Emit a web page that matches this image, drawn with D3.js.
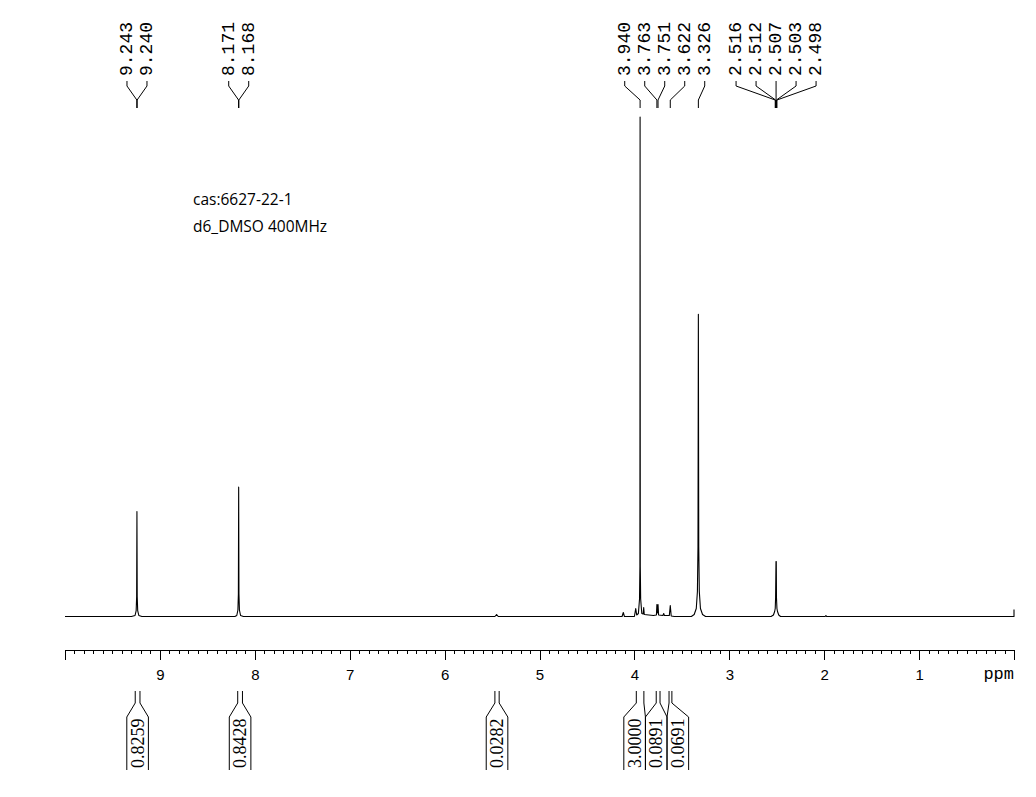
<!DOCTYPE html>
<html>
<head>
<meta charset="utf-8">
<script src="https://cdn.jsdelivr.net/npm/d3@7"></script>
<style>
  html, body { margin: 0; padding: 0; background: #fff; }
  svg { display: block; }
</style>
</head>
<body>
<svg id="chart" width="1036" height="797"></svg>
<script>
// ---------- data ----------
// spectrum trace: [ppm, relative intensity]
const spectrum = [
  [10.00, 0], [9.30, 0],
  [9.262, 0.2], [9.250, 1.2], [9.245, 4], [9.242, 21.0], [9.239, 4], [9.234, 1.2], [9.222, 0.2], [9.19, 0],
  [8.21, 0], [8.190, 0.2], [8.178, 1.3], [8.173, 4.5], [8.170, 25.9], [8.167, 4.5], [8.162, 1.3], [8.150, 0.2], [8.12, 0],
  [5.47, 0], [5.452, 0.4], [5.435, 0],
  [4.13, 0], [4.117, 0.8], [4.105, 0],
  [4.00, 0], [3.986, 1.6], [3.976, 0.3], [3.958, 0.6], [3.946, 3.5], [3.942, 10], [3.940, 100], [3.938, 10], [3.934, 3.5], [3.922, 0.6], [3.908, 0.5], [3.902, 1.8], [3.896, 0.4],
  [3.80, 0.2], [3.768, 0.3], [3.763, 2.4], [3.757, 0.7], [3.751, 2.4], [3.745, 0.3],
  [3.700, 0.2], [3.691, 0.6], [3.684, 0.2],
  [3.632, 0.2], [3.622, 2.2], [3.612, 0.1], [3.58, 0],
  [3.40, 0], [3.370, 0.4], [3.348, 1.6], [3.336, 5], [3.330, 14], [3.326, 60.5], [3.322, 14], [3.316, 5], [3.304, 1.6], [3.282, 0.4], [3.25, 0],
  [2.56, 0], [2.535, 0.3], [2.522, 1.0], [2.516, 1.6], [2.512, 3.8], [2.508, 11.0], [2.505, 11.0], [2.503, 3.8], [2.498, 1.6], [2.492, 1.0], [2.479, 0.3], [2.46, 0],
  [1.99, 0], [1.982, 0.2], [1.975, 0],
  [0.00, 0], [0.00, 1.4]
];

// peak pick labels (ppm)
const peakLabels = ["9.243", "9.240", "8.171", "8.168", "3.940", "3.763", "3.751", "3.622", "3.326",
                    "2.516", "2.512", "2.507", "2.503", "2.498"];

// integrals: ranges [from, to] in ppm and values
const integralRanges = [[9.26, 9.21], [8.18, 8.13], [5.47, 5.425], [3.98, 3.90], [3.77, 3.73], [3.635, 3.605]];
const integralValues = ["0.8259", "0.8428", "0.0282", "3.0000", "0.0891", "0.0691"];

// axis ticks
const majorTicks = [9, 8, 7, 6, 5, 4, 3, 2, 1];
const axisUnit = "ppm";

// annotations
const annotations = ["cas:6627-22-1", "d6_DMSO 400MHz"];

// ---------- drawing ----------
const svg = d3.select("#chart");
const x = d3.scaleLinear().domain([10, 0]).range([65, 1014]);
const y = d3.scaleLinear().domain([0, 100]).range([616.5, 117]);

// spectrum
svg.append("path")
  .datum(spectrum)
  .attr("fill", "none")
  .attr("stroke", "#000")
  .attr("stroke-width", 1.1)
  .attr("stroke-linejoin", "round")
  .attr("d", d3.line().x(d => x(d[0])).y(d => y(d[1])));

// axis
const axisY = 650;
const minorTicks = d3.range(1, 100).map(i => i / 10).filter(v => Math.abs(v - Math.round(v)) > 1e-6);
const gMinor = svg.append("g").attr("transform", `translate(0,${axisY})`)
  .call(d3.axisBottom(x).tickValues(minorTicks).tickSize(4).tickSizeOuter(0).tickFormat(""));
gMinor.select(".domain").remove();
gMinor.selectAll("line").attr("stroke", "#000").attr("shape-rendering", "crispEdges");

const gMajor = svg.append("g").attr("transform", `translate(0,${axisY})`)
  .call(d3.axisBottom(x).tickValues(majorTicks).tickSize(10).tickSizeOuter(10).tickPadding(9).tickFormat(d3.format("d")));
gMajor.select(".domain").attr("stroke", "#000").attr("shape-rendering", "crispEdges");
gMajor.selectAll("line").attr("stroke", "#000").attr("shape-rendering", "crispEdges");
gMajor.selectAll("text")
  .attr("font-family", "'Liberation Sans', Arial, sans-serif")
  .attr("font-size", 15)
  .attr("fill", "#000");

svg.append("text")
  .attr("x", 1014).attr("y", 679)
  .attr("text-anchor", "end")
  .attr("font-family", "'Courier New', 'Liberation Mono', monospace")
  .attr("font-size", 17)
  .attr("fill", "#000")
  .text(axisUnit);

// layout helper: spread items of width w around target positions without overlap
function spread(targets, w) {
  let clusters = targets.map((t, i) => ({ idx: [i], sum: t, n: 1 }));
  let changed = true;
  while (changed) {
    changed = false;
    for (let i = 0; i < clusters.length - 1; i++) {
      const a = clusters[i], b = clusters[i + 1];
      const aEnd = a.sum / a.n + a.n * w / 2;
      const bStart = b.sum / b.n - b.n * w / 2;
      if (aEnd > bStart) {
        clusters.splice(i, 2, { idx: a.idx.concat(b.idx), sum: a.sum + b.sum, n: a.n + b.n });
        changed = true;
        break;
      }
    }
  }
  const pos = new Array(targets.length);
  clusters.forEach(c => {
    const center = c.sum / c.n;
    c.idx.forEach((k, j) => { pos[k] = center + (j - (c.n - 1) / 2) * w; });
  });
  return pos;
}

// peak labels
const peakX = peakLabels.map(s => x(+s));
const labelX = spread(peakX, 20);
const gPeaks = svg.append("g");
peakLabels.forEach((s, i) => {
  gPeaks.append("path")
    .attr("fill", "none").attr("stroke", "#000").attr("stroke-width", 1)
    .attr("d", `M${labelX[i]},81 V86 L${peakX[i]},100 V108`);
  gPeaks.append("text")
    .attr("transform", `translate(${labelX[i]},76) rotate(-90)`)
    .attr("text-anchor", "start")
    .attr("dominant-baseline", "central")
    .attr("font-family", "'Liberation Mono', 'Courier New', monospace")
    .attr("font-size", 18)
    .attr("fill", "#000")
    .text(s);
});

// integrals
const boxW = 21.6;
const rangeX = integralRanges.map(r => [x(r[0]), x(r[1])]);
const boxC = spread(rangeX.map(r => (r[0] + r[1]) / 2), boxW);
const gInt = svg.append("g");
integralValues.forEach((v, i) => {
  const [a, b] = rangeX[i];
  const l = boxC[i] - boxW / 2, r = boxC[i] + boxW / 2;
  gInt.append("path")
    .attr("fill", "none").attr("stroke", "#000").attr("stroke-width", 1)
    .attr("d", `M${a},691 V703 L${l},717 V770 M${b},691 V703 L${r},717 V770`);
  gInt.append("text")
    .attr("transform", `translate(${boxC[i]},768) rotate(-90)`)
    .attr("text-anchor", "start")
    .attr("dominant-baseline", "central")
    .attr("font-family", "'Liberation Serif', 'Times New Roman', serif")
    .attr("font-size", 18)
    .attr("fill", "#000")
    .text(v);
});

// annotation text
annotations.forEach((t, i) => {
  svg.append("text")
    .attr("x", 193).attr("y", 204.5 + i * 27)
    .attr("font-family", "'Open Sans', 'Noto Sans', sans-serif")
    .attr("font-size", 15.5)
    .attr("fill", "#000")
    .text(t);
});
</script>
</body>
</html>
